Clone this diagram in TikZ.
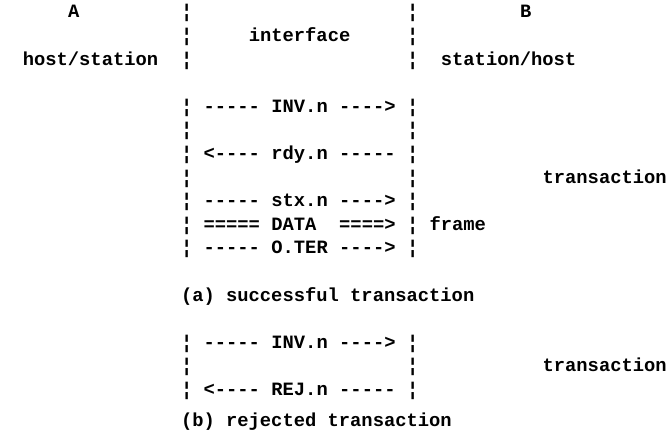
\documentclass[tikz,border=0pt]{standalone}
\usepackage{fontspec}
\setmonofont{Liberation Mono}
\usepackage{tikz}
\tikzstyle{tw}=[anchor=base west,inner sep=0pt,yshift=-18pt,font=\ttfamily\bfseries\fontsize{18.8pt}{20pt}\selectfont]
\tikzstyle{bar}=[tw]
\tikzstyle{msg}=[tw]

\begin{document}
\begin{tikzpicture}[x=11.3pt,y=-23.6pt]
    \useasboundingbox (0pt,0pt) rectangle (672pt,-435pt);
    % Headings of the two sides and the interface
    \foreach \pos/\name/\txt in {{(6,0)/A/A}, {(46,0)/B/B}, {(22,1)/iface/interface}, {(2,2)/hostA/{host/station}}, {(39,2)/hostB/{station/host}}}
        \node[tw] (\name) at \pos {\txt};

    % The interface walls, one broken bar per line
    \foreach \r in {0,1,2,4,5,6,7,8,9,10,14,15,16}{
        \node[bar] (lbar\r) at (16,\r) {¦};
        \node[bar] (rbar\r) at (36,\r) {¦};
    }

    % Messages: tail, name, head
    \foreach \row/\name/\tail/\lab/\head in {4/inva/-----/INV.n/---->, 6/rdy/<----/rdy.n/-----, 8/stx/-----/stx.n/---->, 9/data/=====/DATA/====>, 10/ter/-----/O.TER/---->, 14/invb/-----/INV.n/---->, 16/rej/<----/REJ.n/-----}{
        \node[msg] (\name tail) at (18,\row) {\tail};
        \node[msg] (\name) at (24,\row) {\lab};
        \node[msg] (\name head) at (30,\row) {\head};
    }

    % Side notes and captions
    \foreach \pos/\name/\txt in {{(48,7)/transa/transaction}, {(38,9)/frame/frame}, {(16,12)/capa/{(a) successful transaction}}, {(48,15)/transb/transaction}, {(16,17.3)/capb/{(b) rejected transaction}}}
        \node[tw] (\name) at \pos {\txt};
\end{tikzpicture}
\end{document}
